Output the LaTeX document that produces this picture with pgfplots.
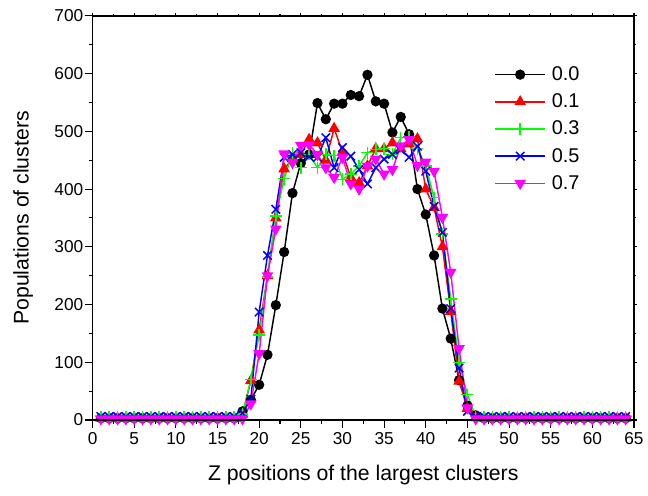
\documentclass[border=0pt]{standalone}
\usepackage{fontspec}
\setmainfont{Liberation Sans}
\usepackage{pgfplots}
\usepackage{pgfplotstable}
\pgfplotsset{compat=1.18}

% columns: z, then populations for 0.0 0.1 0.3 0.5 0.7
\pgfplotstableread{
x a b c d e
1 3 3 6 6 2
2 3 3 6 6 2
3 3 3 6 6 2
4 3 3 6 6 2
5 3 3 6 6 2
6 3 3 6 6 2
7 3 3 6 6 2
8 3 3 6 6 2
9 3 3 6 6 2
10 3 3 6 6 2
11 3 3 6 6 2
12 3 3 6 6 2
13 3 3 6 6 2
14 3 3 6 6 2
15 3 3 6 6 2
16 3 3 6 6 2
17 3 3 6 6 2
18 15 10 10 12 2
19 35 68 70 36 28
20 61 156 147 187 115
21 113 250 248 285 250
22 199 350 353 365 331
23 291 435 418 455 461
24 393 452 462 460 446
25 445 460 437 463 476
26 460 486 460 456 477
27 549 480 437 455 460
28 521 450 460 489 437
29 548 505 458 437 420
30 548 464 417 472 455
31 563 420 426 457 409
32 561 411 440 434 400
33 598 440 463 409 440
34 552 470 469 437 452
35 548 470 470 452 426
36 498 480 460 460 434
37 525 470 489 468 475
38 495 478 490 455 486
39 400 487 470 474 441
40 356 400 440 431 447
41 285 368 385 370 431
42 193 300 322 325 351
43 141 188 210 193 256
44 69 67 100 90 124
45 25 20 44 15 21
46 8 4 6 6 2
47 3 3 6 6 2
48 3 3 6 6 2
49 3 3 6 6 2
50 3 3 6 6 2
51 3 3 6 6 2
52 3 3 6 6 2
53 3 3 6 6 2
54 3 3 6 6 2
55 3 3 6 6 2
56 3 3 6 6 2
57 3 3 6 6 2
58 3 3 6 6 2
59 3 3 6 6 2
60 3 3 6 6 2
61 3 3 6 6 2
62 3 3 6 6 2
63 3 3 6 6 2
64 3 3 6 6 2
}\clusters

\definecolor{pureRed}{RGB}{255,0,0}
\definecolor{pureGreen}{RGB}{0,255,0}
\definecolor{pureBlue}{RGB}{0,0,255}
\definecolor{pureMagenta}{RGB}{255,0,255}

\pgfplotsset{
  frame/.style={
    scale only axis,
    width=408pt, height=304.5pt,
    xmin=0, xmax=65, ymin=0, ymax=700,
    xtick distance=5, ytick distance=100,
    minor x tick num=1, minor y tick num=1,
    axis line style={line width=0.9pt},
  },
}

\begin{document}
\begin{tikzpicture}
\begin{axis}[
    frame,
    tick align=outside,
    xtick pos=bottom, ytick pos=left,
    major tick length=6pt, minor tick length=3pt,
    every tick/.style={black, line width=0.8pt},
    /pgf/number format/assume math mode=true,
    tick label style={font=\fontsize{13}{15}\selectfont},
    yticklabel style={xshift=2.5pt},
    label style={font=\fontsize{16}{19}\selectfont},
    xlabel={Z positions of the largest clusters},
    ylabel={Populations of clusters},
    xlabel style={at={(axis description cs:0.5,-0.135)}, anchor=center},
    ylabel style={at={(axis description cs:-0.128,0.5)}, anchor=center},
    legend style={at={(0.742,0.875)}, anchor=north west, draw=none, fill=none,
      font=\fontsize{15}{18}\selectfont, row sep=8.5pt, inner sep=0pt,
      cells={anchor=west},
      nodes={inner xsep=4.5pt, inner ysep=0pt}},
    legend image code/.code={%
      \draw[mark repeat=2,mark phase=2] plot coordinates {(0pt,0pt) (18.75pt,0pt) (37.5pt,0pt)};},
    every axis plot/.append style={line width=1.1pt},
]
\addplot[black, mark=*, mark size=3.3pt] table[x=x, y=a] {\clusters};
\addlegendentry{0.0}
\addplot[pureRed, mark=triangle*, mark size=4pt] table[x=x, y=b] {\clusters};
\addlegendentry{0.1}
\addplot[pureGreen, mark=+, mark size=4.5pt] table[x=x, y=c] {\clusters};
\addlegendentry{0.3}
\addplot[pureBlue, mark=x, mark size=4.5pt] table[x=x, y=d] {\clusters};
\addlegendentry{0.5}
\addplot[pureMagenta, mark=triangle*, mark options={rotate=180}, mark size=4pt] table[x=x, y=e] {\clusters};
\addlegendentry{0.7}
\coordinate (bl) at (rel axis cs:0,0);
\coordinate (tr) at (rel axis cs:1,1);
\end{axis}
% short ticks on the top and right edges
\begin{axis}[
    frame,
    tick align=outside,
    xtick pos=top, ytick pos=right,
    major tick length=2pt, minor tick length=1.5pt,
    every tick/.style={black, line width=0.8pt},
    xticklabels={}, yticklabels={},
]
\end{axis}
\path ([shift={(-69.75pt,-57pt)}]bl) rectangle ([shift={(8.25pt,12pt)}]tr);
\end{tikzpicture}
\end{document}
